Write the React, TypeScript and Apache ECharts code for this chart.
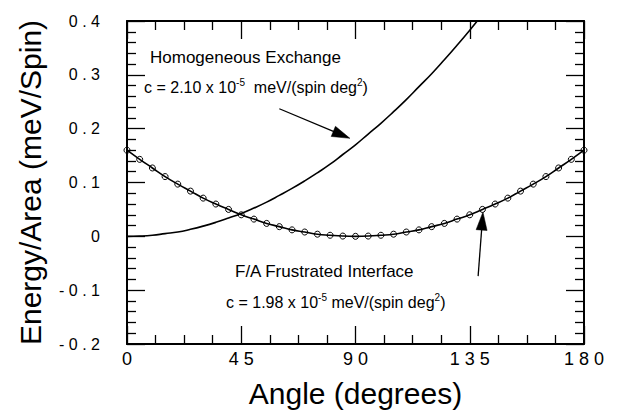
import React, { useEffect, useRef } from "react";
import * as echarts from "echarts";

// Angles (degrees) sampled for the F/A frustrated-interface curve (markers)
const faAngles = [0, 5, 10, 15, 20, 25, 30, 35, 40, 45, 50, 55, 60, 65, 70, 75, 80, 85, 90,
  95, 100, 105, 110, 115, 120, 125, 130, 135, 140, 145, 150, 155, 160, 165, 170, 175, 180];
const faEnergy = [0.160, 0.143, 0.127, 0.111, 0.097, 0.084, 0.071, 0.060, 0.050, 0.040,
  0.032, 0.024, 0.018, 0.012, 0.008, 0.004, 0.002, 0.0005, 0.000,
  0.0005, 0.002, 0.004, 0.008, 0.012, 0.018, 0.024, 0.032, 0.040, 0.050,
  0.060, 0.071, 0.084, 0.097, 0.111, 0.127, 0.143, 0.160];

// Homogeneous exchange curve
const homAngles = [0, 5, 10, 15, 20, 25, 30, 35, 40, 45, 50, 55, 60, 65, 70, 75, 80, 85, 90,
  95, 100, 105, 110, 115, 120, 125, 130, 135, 140];
const homEnergy = [0.000, 0.0005, 0.002, 0.005, 0.008, 0.013, 0.019, 0.026, 0.034, 0.0425,
  0.0525, 0.0635, 0.076, 0.089, 0.103, 0.118, 0.134, 0.152, 0.170,
  0.190, 0.210, 0.2315, 0.254, 0.278, 0.302, 0.328, 0.355, 0.383, 0.412];

const xTicks = [0, 45, 90, 135, 180];
const yTicks = [-0.2, -0.1, 0, 0.1, 0.2, 0.3, 0.4];

// annotation arrows: [tail, tip] in data coordinates
const arrowHom = [[60, 0.237], [87.8, 0.182]];
const arrowFA = [[138.3, -0.074], [140.2, 0.045]];

const FONT = '"Liberation Sans", Arial, Helvetica, sans-serif';

const spaced = (s: string) => s.split("").join(" ");

export default function App() {
  const ref = useRef<HTMLDivElement>(null);
  useEffect(() => {
    if (!ref.current) return;
    const chart = echarts.init(ref.current, undefined, { renderer: "svg" });
    const axisCommon = {
      type: "value" as const,
      axisLine: { show: true, onZero: false, lineStyle: { color: "#000", width: 2 } },
      axisTick: { show: true, inside: true, length: 18, lineStyle: { color: "#000", width: 1.3 } },
      minorTick: { show: true, length: 9, lineStyle: { color: "#000", width: 1.3 } },
      splitLine: { show: false },
    };
    const xCommon = {
      ...axisCommon,
      min: xTicks[0],
      max: xTicks[xTicks.length - 1],
      interval: xTicks[1] - xTicks[0],
      minorTick: { ...axisCommon.minorTick, splitNumber: 4 },
    };
    const yCommon = {
      ...axisCommon,
      min: yTicks[0],
      max: yTicks[yTicks.length - 1],
      interval: 0.1,
      minorTick: { ...axisCommon.minorTick, splitNumber: 5 },
    };
    chart.setOption({
      animation: false,
      backgroundColor: "#fff",
      grid: { left: 127, right: 35, top: 21, bottom: 64, containLabel: false },
      xAxis: [
        {
          ...xCommon,
          position: "bottom",
          name: "Angle (degrees)",
          nameLocation: "middle",
          nameGap: 34,
          nameTextStyle: { color: "#000", fontSize: 30, fontFamily: FONT },
          axisLabel: {
            color: "#000",
            fontSize: 18,
            fontFamily: FONT,
            margin: 6,
            formatter: (v: number) => spaced(String(v)),
          },
        },
        { ...xCommon, position: "top", axisLabel: { show: false } },
      ],
      yAxis: [
        {
          ...yCommon,
          position: "left",
          name: "Energy/Area (meV/Spin)",
          nameLocation: "middle",
          nameGap: 82,
          nameTextStyle: { color: "#000", fontSize: 30, fontFamily: FONT },
          axisLabel: {
            color: "#000",
            fontSize: 16,
            fontFamily: FONT,
            margin: 27,
            formatter: (v: number) => spaced(Math.abs(v) < 1e-9 ? "0" : v.toFixed(1)),
          },
        },
        { ...yCommon, position: "right", axisLabel: { show: false } },
      ],
      series: [
        {
          type: "line",
          name: "Homogeneous Exchange",
          xAxisIndex: 0,
          yAxisIndex: 0,
          data: homAngles.map((a, i) => [a, homEnergy[i]]),
          showSymbol: false,
          symbol: "none",
          smooth: true,
          clip: true,
          lineStyle: { color: "#000", width: 1.6 },
        },
        {
          type: "line",
          name: "F/A Frustrated Interface",
          xAxisIndex: 0,
          yAxisIndex: 0,
          data: faAngles.map((a, i) => [a, faEnergy[i]]),
          symbol: "circle",
          symbolSize: 6,
          smooth: true,
          clip: false,
          lineStyle: { color: "#000", width: 1.6 },
          itemStyle: { color: "rgba(255,255,255,0)", borderColor: "#000", borderWidth: 1 },
        },
      ],
    });

    const toPx = (p: number[]) => chart.convertToPixel({ gridIndex: 0 }, p) as number[];
    const arrow = (pts: number[][]) => {
      const a = toPx(pts[0]);
      const b = toPx(pts[1]);
      const dx = b[0] - a[0];
      const dy = b[1] - a[1];
      const len = Math.hypot(dx, dy);
      const ux = dx / len, uy = dy / len;
      const nx = -uy, ny = ux;
      const L = 18, W = 5.5;
      const bx = b[0] - ux * L, by = b[1] - uy * L;
      return [
        {
          type: "line",
          shape: { x1: a[0], y1: a[1], x2: bx + ux * 2, y2: by + uy * 2 },
          style: { stroke: "#000", lineWidth: 1.3 },
        },
        {
          type: "polygon",
          shape: { points: [[b[0], b[1]], [bx + nx * W, by + ny * W], [bx - nx * W, by - ny * W]] },
          style: { fill: "#000", stroke: "#000", lineWidth: 0.5 },
        },
      ];
    };
    const rich = {
      a: { fontSize: 16, fontFamily: FONT, color: "#000", lineHeight: 20 },
      s: { fontSize: 10, fontFamily: FONT, color: "#000", verticalAlign: "top" },
    };
    chart.setOption({
      graphic: [
        {
          type: "text",
          x: 150,
          y: 57,
          style: { text: "Homogeneous Exchange", font: `17px ${FONT}`, fill: "#000", verticalAlign: "middle" },
        },
        {
          type: "text",
          x: 144,
          y: 87,
          style: {
            text: "{a|c = 2.10 x 10}{s|-5}{a|  meV/(spin deg}{s|2}{a|)}",
            rich,
            verticalAlign: "middle",
          },
        },
        {
          type: "text",
          x: 235,
          y: 271,
          style: { text: "F/A Frustrated Interface", font: `17px ${FONT}`, fill: "#000", verticalAlign: "middle" },
        },
        {
          type: "text",
          x: 226,
          y: 302,
          style: {
            text: "{a|c = 1.98 x 10}{s|-5}{a| meV/(spin deg}{s|2}{a|)}",
            rich,
            verticalAlign: "middle",
          },
        },
        ...arrow(arrowHom),
        ...arrow(arrowFA),
      ],
    });
    return () => chart.dispose();
  }, []);
  return <div ref={ref} style={{ width: 619, height: 413, position: "absolute", left: 0, top: 0 }} />;
}
